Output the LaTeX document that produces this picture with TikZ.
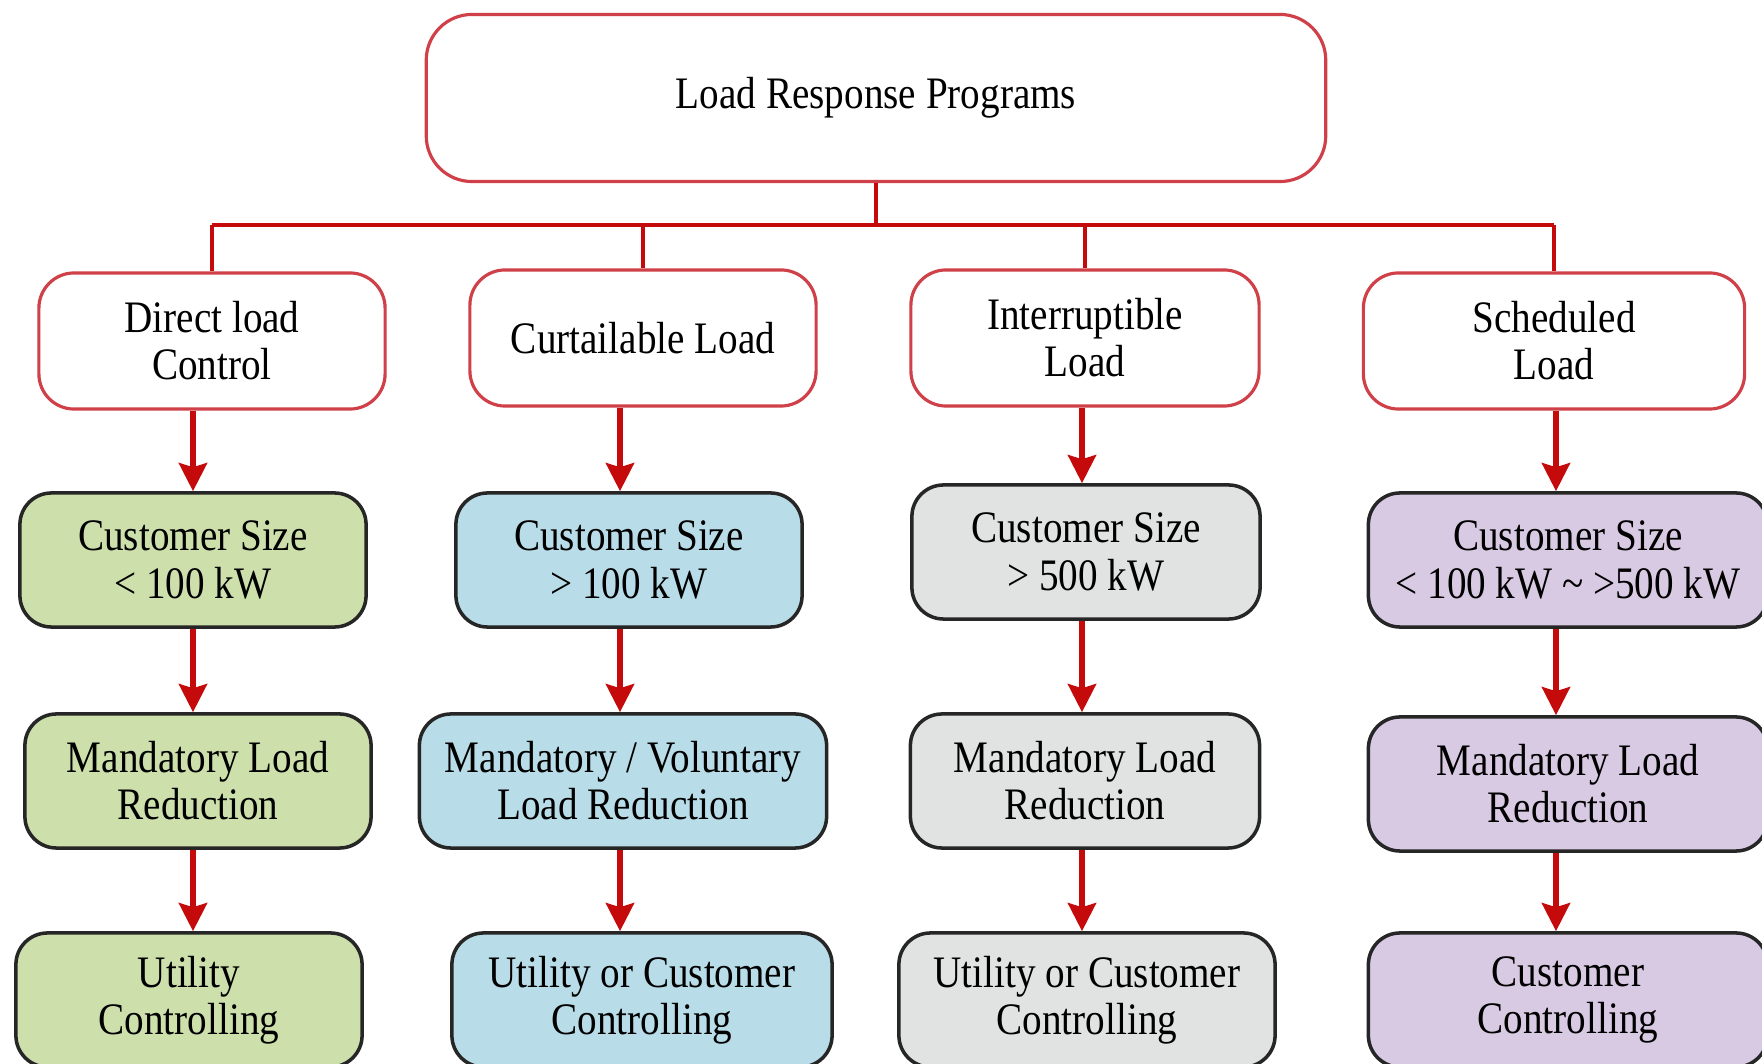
\documentclass[tikz,border=0pt]{standalone}
\usepackage{fontspec}
\setmainfont{Liberation Serif}[FakeStretch=0.87]
\usetikzlibrary{arrows.meta}
\definecolor{linkred}{HTML}{C40A0A}
\definecolor{framered}{HTML}{D04048}
\definecolor{sizegreen}{HTML}{CDE0AC}
\definecolor{sizeblue}{HTML}{B8DDE8}
\definecolor{sizegray}{HTML}{E1E3E2}
\definecolor{sizepurple}{HTML}{D9CAE3}

\begin{document}
\begin{tikzpicture}[x=0.01cm,y=-0.01cm,
  font=\fontsize{12.8}{13.4}\selectfont,
  head/.style={draw=framered,line width=0.9pt,fill=white,rounded corners=10pt,
    align=center,inner sep=0pt,minimum height=1.36cm},
  cell/.style={draw=black!85,line width=1pt,rounded corners=9pt,
    align=center,inner sep=0pt,minimum height=1.34cm},
  tree/.style={draw=linkred,line width=0.9pt},
  flow/.style={draw=linkred,line width=1.5pt,
    -{Stealth[length=8pt,width=8pt,inset=1.2pt]}}]
  \path[use as bounding box] (0,0) rectangle (1762,1064);
  \clip (0,0) rectangle (1762,1064);

  % Root and the four program types.
  \node[head,minimum width=8.99cm,minimum height=1.67cm,rounded corners=13pt] (lrp) at (876,98) {Load Response Programs};
  \node[head,minimum width=3.46cm] (dl) at (212,341) {Direct load\\Control};
  \node[head,minimum width=3.46cm] (cl) at (643,338) {Curtailable Load};
  \node[head,minimum width=3.48cm] (il) at (1085,338) {Interruptible\\Load};
  \node[head,minimum width=3.81cm] (sl) at (1554,341) {Scheduled\\Load};

  % Customer size.
  \node[cell,fill=sizegreen,minimum width=3.46cm] (cs1) at (193,560) {Customer Size\\< 100 kW};
  \node[cell,fill=sizeblue,minimum width=3.46cm] (cs2) at (629,560) {Customer Size\\> 100 kW};
  \node[cell,fill=sizegray,minimum width=3.48cm] (cs3) at (1086,552) {Customer Size\\> 500 kW};
  \node[cell,fill=sizepurple,minimum width=3.99cm] (cs4) at (1568,560) {Customer Size\\< 100 kW \textasciitilde{} >500 kW};

  % Kind of reduction.
  \node[cell,fill=sizegreen,minimum width=3.46cm] (mr1) at (198,781) {Mandatory Load\\Reduction};
  \node[cell,fill=sizeblue,minimum width=4.07cm] (mr2) at (623,781) {Mandatory / Voluntary\\Load Reduction};
  \node[cell,fill=sizegray,minimum width=3.49cm] (mr3) at (1085,781) {Mandatory Load\\Reduction};
  \node[cell,fill=sizepurple,minimum width=3.99cm] (mr4) at (1568,784) {Mandatory Load\\Reduction};

  % Who controls.
  \node[cell,fill=sizegreen,minimum width=3.46cm] (uc1) at (189,1000) {Utility\\Controlling};
  \node[cell,fill=sizeblue,minimum width=3.80cm] (uc2) at (642,1000) {Utility or Customer\\Controlling};
  \node[cell,fill=sizegray,minimum width=3.76cm] (uc3) at (1087,1000) {Utility or Customer\\Controlling};
  \node[cell,fill=sizepurple,minimum width=3.99cm] (uc4) at (1568,1000) {Customer\\Controlling};

  % Branches from the root.
  \coordinate (bus) at (0,225);
  \draw[tree] (lrp.south) -- (lrp.south |- bus);
  \draw[tree] (bus -| dl.north) -- (bus -| sl.north);
  \foreach \n in {dl,cl,il,sl}{
    \draw[tree] (bus -| \n.north) -- (\n.north);
  }

  % Arrows down each column.
  \coordinate (col1) at (193,0);
  \coordinate (col2) at (620,0);
  \coordinate (col3) at (1082,0);
  \coordinate (col4) at (1556,0);
  \foreach \a/\b/\c in {dl/cs1/col1,cs1/mr1/col1,mr1/uc1/col1,
                        cl/cs2/col2,cs2/mr2/col2,mr2/uc2/col2,
                        il/cs3/col3,cs3/mr3/col3,mr3/uc3/col3,
                        sl/cs4/col4,cs4/mr4/col4,mr4/uc4/col4}{
    \draw[flow] (\a.south -| \c) -- (\b.north -| \c);
  }
\end{tikzpicture}
\end{document}
